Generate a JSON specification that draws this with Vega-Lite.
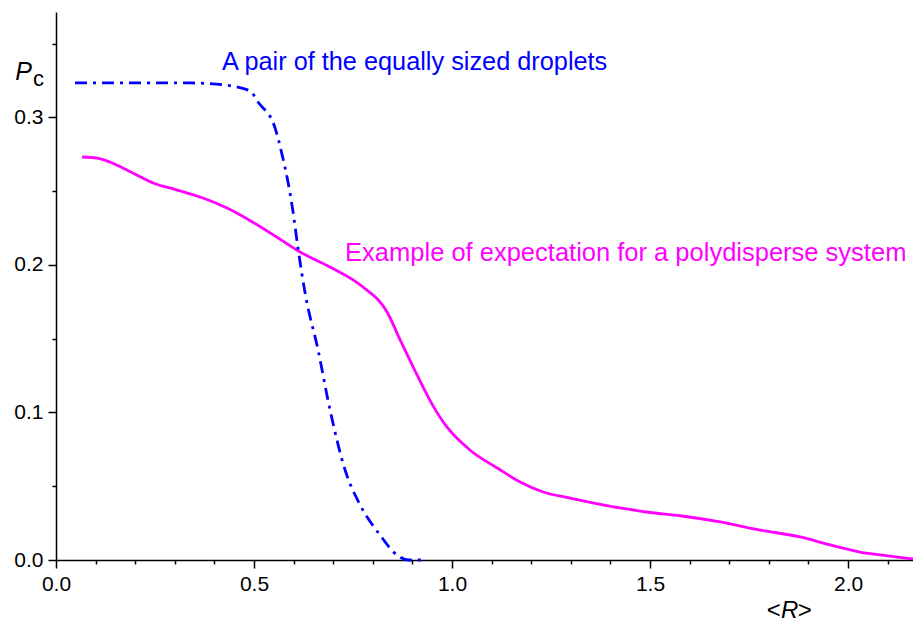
{
  "$schema": "https://vega.github.io/schema/vega-lite/v6.json",
  "width": 857,
  "height": 548,
  "autosize": {"type": "none"},
  "padding": {"left": 56, "top": 12, "right": 0, "bottom": 62},
  "background": "white",
  "config": {
    "view": {"stroke": null},
    "font": "Liberation Sans",
    "axis": {"grid": false, "domainColor": "black", "domainWidth": 1.5, "tickColor": "black", "tickWidth": 1.5, "labelFont": "Liberation Sans", "labelColor": "black", "labelFontSize": 21}
  },
  "datasets": {
    "poly": [
      {"x": 0.066, "y": 0.2732}, {"x": 0.104, "y": 0.2725}, {"x": 0.136, "y": 0.2698},
      {"x": 0.179, "y": 0.2644}, {"x": 0.245, "y": 0.2556}, {"x": 0.306, "y": 0.2508},
      {"x": 0.371, "y": 0.2454}, {"x": 0.432, "y": 0.2386}, {"x": 0.497, "y": 0.2290},
      {"x": 0.558, "y": 0.2188}, {"x": 0.616, "y": 0.2088}, {"x": 0.692, "y": 0.1986},
      {"x": 0.775, "y": 0.1851}, {"x": 0.836, "y": 0.1681}, {"x": 0.869, "y": 0.1492},
      {"x": 0.902, "y": 0.1308}, {"x": 0.952, "y": 0.1045}, {"x": 0.987, "y": 0.0902},
      {"x": 1.045, "y": 0.0746}, {"x": 1.114, "y": 0.0624}, {"x": 1.172, "y": 0.0529},
      {"x": 1.230, "y": 0.0461}, {"x": 1.298, "y": 0.0420}, {"x": 1.424, "y": 0.0353},
      {"x": 1.500, "y": 0.0322}, {"x": 1.576, "y": 0.0300}, {"x": 1.677, "y": 0.0258},
      {"x": 1.778, "y": 0.0203}, {"x": 1.879, "y": 0.0156}, {"x": 1.955, "y": 0.0102},
      {"x": 2.030, "y": 0.0054}, {"x": 2.106, "y": 0.0027}, {"x": 2.164, "y": 0.0007}
    ],
    "pair": [
      {"x": 0.048, "y": 0.3234}, {"x": 0.200, "y": 0.3234}, {"x": 0.338, "y": 0.3234},
      {"x": 0.419, "y": 0.3222}, {"x": 0.490, "y": 0.3180}, {"x": 0.510, "y": 0.3105},
      {"x": 0.553, "y": 0.2930}, {"x": 0.571, "y": 0.2746}, {"x": 0.586, "y": 0.2560},
      {"x": 0.598, "y": 0.2370}, {"x": 0.611, "y": 0.2115}, {"x": 0.629, "y": 0.1810},
      {"x": 0.662, "y": 0.1420}, {"x": 0.692, "y": 0.1017}, {"x": 0.730, "y": 0.0610},
      {"x": 0.768, "y": 0.0373}, {"x": 0.818, "y": 0.0170}, {"x": 0.861, "y": 0.0034},
      {"x": 0.890, "y": 0.0000}, {"x": 0.932, "y": 0.0000}
    ]
  },
  "layer": [
    {
      "data": {"name": "poly"},
      "mark": {"type": "line", "color": "#FF00FF", "strokeWidth": 2.8, "interpolate": "monotone"},
      "encoding": {
        "x": {"field": "x", "type": "quantitative",
          "scale": {"domain": [0, 2.164], "nice": false, "zero": false},
          "axis": {"orient": "bottom", "values": [0, 0.5, 1, 1.5, 2], "format": ".1f", "tickSize": 8, "labelPadding": 5, "title": null, "labelFlush": false}},
        "y": {"field": "y", "type": "quantitative",
          "scale": {"domain": [0, 0.3715], "nice": false},
          "axis": {"orient": "left", "values": [0, 0.1, 0.2, 0.3], "format": ".1f", "tickSize": 8, "labelPadding": 5, "title": null, "labelFlush": false}}
      }
    },
    {
      "data": {"name": "pair"},
      "mark": {"type": "line", "color": "#0000FF", "strokeWidth": 2.8, "strokeDash": [12, 6, 3, 6], "interpolate": "monotone"},
      "encoding": {
        "x": {"field": "x", "type": "quantitative",
          "axis": {"orient": "bottom", "values": [0.1, 0.2, 0.3, 0.4, 0.6, 0.7, 0.8, 0.9, 1.1, 1.2, 1.3, 1.4, 1.6, 1.7, 1.8, 1.9, 2.1], "tickSize": 4, "labels": false, "domain": false, "title": null}},
        "y": {"field": "y", "type": "quantitative",
          "axis": {"orient": "left", "values": [0.05, 0.15, 0.25, 0.35], "tickSize": 4, "labels": false, "domain": false, "title": null}}
      }
    },
    {
      "data": {"values": [{"label": "A pair of the equally sized droplets"}]},
      "mark": {"type": "text", "color": "#0000FF", "fontSize": 25.3, "align": "left", "baseline": "middle"},
      "encoding": {
        "x": {"datum": 0.419, "type": "quantitative", "axis": null},
        "y": {"datum": 0.3376, "type": "quantitative", "axis": null},
        "text": {"field": "label"}
      }
    },
    {
      "data": {"values": [{"label": "Example of expectation for a polydisperse system"}]},
      "mark": {"type": "text", "color": "#FF00FF", "fontSize": 25.5, "align": "left", "baseline": "middle"},
      "encoding": {
        "x": {"datum": 0.730, "type": "quantitative", "axis": null},
        "y": {"datum": 0.208, "type": "quantitative", "axis": null},
        "text": {"field": "label"}
      }
    },
    {
      "data": {"values": [{"label": "P"}]},
      "mark": {"type": "text", "color": "black", "fontSize": 25, "fontStyle": "italic", "align": "left", "baseline": "alphabetic", "clip": false},
      "encoding": {
        "x": {"datum": -0.103, "type": "quantitative", "axis": null},
        "y": {"datum": 0.3255, "type": "quantitative", "axis": null},
        "text": {"field": "label"}
      }
    },
    {
      "data": {"values": [{"label": "c"}]},
      "mark": {"type": "text", "color": "black", "fontSize": 22, "align": "left", "baseline": "alphabetic", "clip": false},
      "encoding": {
        "x": {"datum": -0.058, "type": "quantitative", "axis": null},
        "y": {"datum": 0.3216, "type": "quantitative", "axis": null},
        "text": {"field": "label"}
      }
    },
    {
      "data": {"values": [{"label": "<"}]},
      "mark": {"type": "text", "color": "black", "fontSize": 24, "align": "left", "baseline": "middle", "clip": false},
      "encoding": {
        "x": {"datum": 1.795, "type": "quantitative", "axis": null},
        "y": {"datum": -0.0345, "type": "quantitative", "axis": null},
        "text": {"field": "label"}
      }
    },
    {
      "data": {"values": [{"label": "R"}]},
      "mark": {"type": "text", "color": "black", "fontSize": 24, "fontStyle": "italic", "align": "left", "baseline": "middle", "clip": false},
      "encoding": {
        "x": {"datum": 1.831, "type": "quantitative", "axis": null},
        "y": {"datum": -0.0345, "type": "quantitative", "axis": null},
        "text": {"field": "label"}
      }
    },
    {
      "data": {"values": [{"label": ">"}]},
      "mark": {"type": "text", "color": "black", "fontSize": 24, "align": "left", "baseline": "middle", "clip": false},
      "encoding": {
        "x": {"datum": 1.873, "type": "quantitative", "axis": null},
        "y": {"datum": -0.0345, "type": "quantitative", "axis": null},
        "text": {"field": "label"}
      }
    }
  ],
  "resolve": {"axis": {"x": "independent", "y": "independent"}}
}
